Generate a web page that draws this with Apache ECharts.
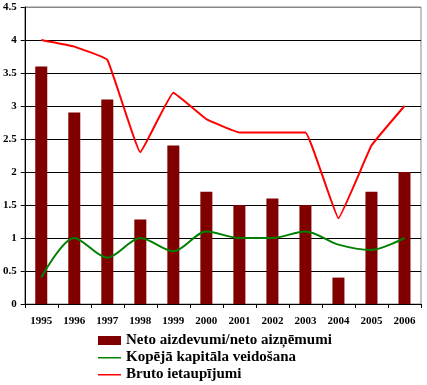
<!DOCTYPE html>
<html><head><meta charset="utf-8">
<script src="https://cdn.jsdelivr.net/npm/echarts@6/dist/echarts.min.js"></script>
<style>html,body{margin:0;padding:0;background:#fff}#c{width:427px;height:385px}</style>
</head><body><div id="c"></div>
<script>
var years = ['1995','1996','1997','1998','1999','2000','2001','2002','2003','2004','2005','2006'];
var netoLending = [3.6, 2.9, 3.1, 1.28, 2.4, 1.7, 1.5, 1.6, 1.5, 0.4, 1.7, 2.0];
var capitalFormation = [0.4, 1.0, 0.7, 1.0, 0.8, 1.1, 1.0, 1.0, 1.1, 0.9, 0.82, 1.0];
var grossSavings = [4.0, 3.9, 3.7, 2.3, 3.2, 2.8, 2.6, 2.6, 2.6, 1.3, 2.4, 3.0];
var seriesNames = ['Neto aizdevumi/neto aizņēmumi', 'Kopējā kapitāla veidošana', 'Bruto ietaupījumi'];

var font = 'Liberation Serif';
var lineIcon = 'path://M0,0 L0,0 M0,4 L23,4 L23,5.5 L0,5.5 Z M23,9 L23,9';
var chart = echarts.init(document.getElementById('c'), null, {renderer:'canvas'});
chart.setOption({
  animation: false,
  grid: {left: 24, right: 6, top: 7, bottom: 81, show: true, borderColor: '#888', borderWidth: 1, backgroundColor: 'transparent'},
  legend: {
    orient: 'vertical', left: 93, top: 328, width: 330, height: 60, itemWidth: 23, itemHeight: 9, itemGap: 2,
    textStyle: {fontFamily: font, fontWeight: 'bold', fontSize: 15, color: '#000'},
    data: [{name: seriesNames[0], icon: 'rect'}, {name: seriesNames[1], icon: lineIcon}, {name: seriesNames[2], icon: lineIcon}]
  },
  xAxis: {
    type: 'category', data: years, boundaryGap: true,
    axisLine: {lineStyle: {color: '#000', width: 1}},
    axisTick: {show: true, alignWithLabel: false, length: 4, lineStyle: {color: '#000'}},
    axisLabel: {fontFamily: font, fontWeight: 'bold', fontSize: 11, color: '#000', margin: 12, interval: 0}
  },
  yAxis: {
    type: 'value', min: 0, max: 4.5, interval: 0.5,
    axisLine: {show: true, lineStyle: {color: '#000'}},
    axisTick: {show: true, length: 4, lineStyle: {color: '#000'}},
    axisLabel: {fontFamily: font, fontWeight: 'bold', fontSize: 11, color: '#000', margin: 8},
    splitLine: {show: true, lineStyle: {color: ['#000','#000','#000','#000','#000','#000','#000','#000','#000','#888'], width: 1}}
  },
  series: [
    {name: seriesNames[0], type: 'bar', data: netoLending, barWidth: 12, itemStyle: {color: '#800000'}},
    {name: seriesNames[1], type: 'line', data: capitalFormation, smooth: 0.3, symbol: 'none', lineStyle: {color: '#008000', width: 2}, itemStyle: {color: '#008000'}},
    {name: seriesNames[2], type: 'line', data: grossSavings, smooth: 0.08, symbol: 'none', lineStyle: {color: '#ff0000', width: 2}, itemStyle: {color: '#ff0000'}}
  ]
});
</script></body></html>
